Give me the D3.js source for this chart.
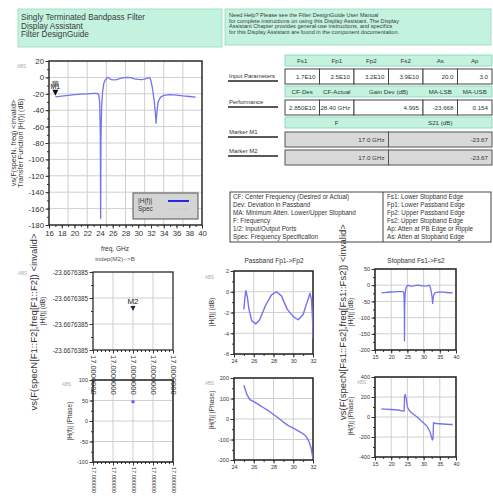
<!DOCTYPE html>
<html><head><meta charset="utf-8">
<script src="https://cdn.jsdelivr.net/npm/d3@7"></script>
<style>body{margin:0;background:#fff;} svg{display:block;font-family:"Liberation Sans",Arial,sans-serif;}</style>
</head><body><svg id="c" width="493" height="499"></svg>
<script>
// ---------------- DATA ----------------
const magFreq = [17,18,19,20,21,22,23,23.5,23.8,23.95,24.05,24.1,24.15,24.25,24.4,24.6,24.8,25.0,25.2,25.5,25.8,26.2,26.6,27.2,27.8,28.3,28.8,29.4,30.0,30.5,31.0,31.4,31.7,31.9,32.0,32.2,32.5,32.7,32.8,32.9,33.1,33.5,34,35,36,37,38,39];
const magDb   = [-23.67,-22.8,-21.8,-21.0,-20.5,-20.0,-19.6,-19.5,-21,-30,-70,-172,-75,-38,-18,-7,-3.5,-1.7,0.1,-1.6,-2.8,-3.1,-2.7,-1.3,-0.3,0,-0.4,-1.7,-2.4,-2.7,-2.2,-1.0,-0.15,-1.5,-4.5,-12,-28,-45,-56,-45,-30,-24,-22,-21,-21.5,-22.5,-23.3,-24];
const pbFreq  = [25.0,25.1,25.2,25.35,25.5,25.8,26.2,26.6,27.2,27.8,28.3,28.8,29.4,30.0,30.5,31.0,31.4,31.7,31.85,31.95,32.0];
const pbDb    = [-1.7,-0.6,0.1,-0.5,-1.6,-2.8,-3.1,-2.7,-1.3,-0.3,0,-0.4,-1.7,-2.4,-2.7,-2.2,-1.0,-0.15,-0.8,-2.5,-4.5];
const pbPhFreq = [25.0,25.3,25.6,26,26.5,27,27.5,28,28.5,29,29.5,30,30.5,31,31.3,31.6,31.8,32];
const pbPhase  = [165,120,95,85,70,55,40,22,5,-15,-32,-45,-58,-72,-85,-110,-140,-195];
const sbPhFreq = [17,18,20,22,23.5,24.0,24.1,24.3,24.6,25,25.5,26,27,28,29,30,31,32,32.7,32.9,33.05,34,36,38,39];
const sbPhase  = [80,78,75,70,62,58,200,225,190,100,70,50,25,0,-30,-60,-90,-150,-230,-220,-60,-65,-70,-75,-75];
const m1Freq = [17.0], m1Db = [-23.67];
const m2Freq = [17.0], m2Db = [-23.6676385], m2Phase = [47];
const m2XLabel = "17.0000000", m2XLabelB = "17.000000", m2YLabel = "-23.6676385";

const inputHeaders = ["Fs1","Fp1","Fp2","Fs2","As","Ap"];
const inputValues  = ["1.7E10","2.5E10","3.2E10","3.9E10","20.0","3.0"];
const perfHeaders  = ["CF-Des","CF-Actual","Gain Dev (dB)","MA-LSB","MA-USB"];
const perfValues   = ["2.850E10","28.40 GHz","4.995","-23.668","0.154"];
const markerHeaders = ["F","S21 (dB)"];
const markerM1 = ["17.0 GHz","-23.67"];
const markerM2 = ["17.0 GHz","-23.67"];
const rowLabels = ["Input Parameters","Performance","Marker M1","Marker M2"];
const titleLines = ["Singly Terminated Bandpass Filter","Display Assistant","Filter DesignGuide"];
const helpLines = ["Need Help? Please see the Filter DesignGuide User Manual",
  "for complete instructions on using this Display Assistant.  The Display",
  "Assistant Chapter provides general-use instructions, and specifics",
  "for this Display Assistant are found in the component documentation."];
const defsLeft = ["CF: Center Frequency (Desired or Actual)","Dev: Deviation in Passband","MA: Minimum Atten. Lower/Upper Stopband","F: Frequency","1/2: Input/Output Ports","Spec: Frequency Specification"];
const defsRight = ["Fs1: Lower Stopband Edge","Fp1: Lower Passband Edge","Fp2: Upper Passband Edge","Fs2: Upper Stopband Edge","Ap: Atten at PB Edge or Ripple","As: Atten at Stopband Edge"];
const legendItems = ["|H(f)|","Spec"];

// ---------------- STYLE ----------------
const MINT = "#c3f3df", MINT_B = "#93d9bd", TXT = "#333", GRID = "#cfcfcf", CURVE = "#7373ee";
const svg = d3.select("#c");
let clipId = 0;

function txt(x, y, s, size, opt = {}) {
  const t = svg.append("text").attr("x", x).attr("y", y).text(s)
    .attr("font-size", size).attr("fill", opt.fill || TXT)
    .attr("text-anchor", opt.anchor || "start");
  if (opt.rot) t.attr("transform", `rotate(${opt.rot},${x},${y})`);
  return t;
}

function plot(c) {
  const g = svg.append("g");
  const x = d3.scaleLinear().domain(c.xd).range([c.x0, c.x0 + c.w]);
  const y = d3.scaleLinear().domain(c.yd).range([c.y0 + c.h, c.y0]);
  g.append("rect").attr("x", c.x0).attr("y", c.y0).attr("width", c.w).attr("height", c.h).attr("fill", "#fff");
  g.selectAll(null).data(c.xGrid).enter().append("line")
    .attr("x1", d => x(d)).attr("x2", d => x(d)).attr("y1", c.y0).attr("y2", c.y0 + c.h)
    .attr("stroke", GRID).attr("stroke-width", 1);
  g.selectAll(null).data(c.yGrid).enter().append("line")
    .attr("y1", d => y(d)).attr("y2", d => y(d)).attr("x1", c.x0).attr("x2", c.x0 + c.w)
    .attr("stroke", GRID).attr("stroke-width", 1);
  const fs = c.fs || 6;
  g.append("g").attr("transform", `translate(0,${c.y0 + c.h})`)
    .call(d3.axisBottom(x).tickValues(c.xMinor || []).tickSize(2).tickFormat(""))
    .call(s => s.select(".domain").remove());
  g.append("g").attr("transform", `translate(${c.x0},0)`)
    .call(d3.axisLeft(y).tickValues(c.yMinor || []).tickSize(2).tickFormat(""))
    .call(s => s.select(".domain").remove());
  const xa = g.append("g").attr("transform", `translate(0,${c.y0 + c.h})`)
    .call(d3.axisBottom(x).tickValues(c.xTicks).tickSize(3.5).tickPadding(2).tickFormat(c.xFmt || (d => d)))
    .call(s => s.select(".domain").remove());
  g.append("g").attr("transform", `translate(${c.x0},0)`)
    .call(d3.axisLeft(y).tickValues(c.yTicks).tickSize(3.5).tickPadding(1.5).tickFormat(c.yFmt || (d => d)))
    .call(s => s.select(".domain").remove());
  g.selectAll(".tick line").attr("stroke", "#333").attr("stroke-width", 1);
  g.selectAll(".tick text").attr("fill", TXT).attr("font-size", fs).attr("font-family", "Liberation Sans, Arial, sans-serif");
  if (c.xRot) {
    xa.selectAll("text").attr("transform", "rotate(90)").attr("x", 5).attr("y", 0)
      .attr("dy", "0.35em").attr("text-anchor", "start").attr("font-size", c.xRotFs || fs);
  }
  g.append("rect").attr("x", c.x0).attr("y", c.y0).attr("width", c.w).attr("height", c.h)
    .attr("fill", "none").attr("stroke", "#2b2b2b").attr("stroke-width", c.bw || 1.3);
  const cid = "clip" + (clipId++);
  svg.append("clipPath").attr("id", cid).append("rect")
    .attr("x", c.x0).attr("y", c.y0).attr("width", c.w).attr("height", c.h);
  const inner = svg.append("g").attr("clip-path", `url(#${cid})`);
  return { x, y, inner, xa };
}

function curve(p, xs, ys, color, w) {
  const line = d3.line().x(i => p.x(xs[i])).y(i => p.y(ys[i]));
  p.inner.append("path").attr("d", line(d3.range(xs.length)))
    .attr("fill", "none").attr("stroke", color || CURVE).attr("stroke-width", w || 1.2)
    .attr("stroke-linejoin", "round");
}

// ---------------- HEADER ----------------
svg.append("rect").attr("x", 18).attr("y", 9).attr("width", 204).attr("height", 38)
  .attr("fill", MINT).attr("stroke", MINT_B).attr("stroke-width", 0.8);
titleLines.forEach((s, i) => txt(21, 20 + i * 8.5, s, 8.2, { fill: "#3a3a3a" }));
svg.append("rect").attr("x", 225).attr("y", 9).attr("width", 266).attr("height", 36)
  .attr("fill", MINT).attr("stroke", MINT_B).attr("stroke-width", 0.8);
helpLines.forEach((s, i) => txt(229, 17 + i * 5.6, s, 5.6, { fill: "#3a3a3a" }));

// ---------------- MAIN CHART ----------------
const main = plot({
  x0: 49, y0: 61, w: 153, h: 164, xd: [16, 40], yd: [-180, 20],
  xTicks: d3.range(16, 41, 2), xMinor: d3.range(16, 41, 1),
  yTicks: d3.range(-180, 21, 20), yMinor: d3.range(-180, 21, 10),
  xGrid: d3.range(19, 40, 3), yGrid: d3.range(-160, 20, 20), fs: 7.8, bw: 1.5
});
curve(main, magFreq, magDb, CURVE, 1.3);
const m1x = main.x(m1Freq[0]), m1y = main.y(m1Db[0]);
svg.append("path").attr("d", `M${m1x - 3},${m1y - 7}L${m1x + 3},${m1y - 7}L${m1x},${m1y - 1}Z`).attr("fill", "#111");
txt(m1x, m1y - 8, "M1", 7, { anchor: "middle", fill: "#222" });
svg.append("rect").attr("x", m1x - 3).attr("y", m1y - 16).attr("width", 6).attr("height", 6).attr("fill", "#555").attr("opacity", 0.6);
svg.append("rect").attr("x", 133).attr("y", 193).attr("width", 65).attr("height", 26)
  .attr("fill", "#d4d4d4").attr("stroke", "#555").attr("stroke-width", 1);
txt(138, 203, legendItems[0], 6.5);
txt(138, 211, legendItems[1], 6.5);
svg.append("line").attr("x1", 168).attr("x2", 189).attr("y1", 201).attr("y2", 201).attr("stroke", "#2727e0").attr("stroke-width", 2);
svg.append("line").attr("x1", 168).attr("x2", 189).attr("y1", 209).attr("y2", 209).attr("stroke", "#c8c8d8").attr("stroke-width", 1);
txt(17, 68, "ABS", 4.5, { fill: "#aaa" });
txt(16, 143, "vs(F(specN, freq) <invalid>", 7.2, { anchor: "middle", rot: -90 });
txt(23, 143, "Transfer Function |H(f)| (dB)", 7.2, { anchor: "middle", rot: -90 });
txt(115, 251, "freq, GHz", 6.5, { anchor: "middle" });
txt(115, 261, "indep(M2)-->B", 6.2, { anchor: "middle", fill: "#555" });

// ---------------- TABLE ----------------
const colX = [285, 319.5, 354, 388.5, 423, 457.5, 492];
function band(y, h, fill, stroke) {
  svg.append("rect").attr("x", colX[0]).attr("y", y).attr("width", colX[6] - colX[0]).attr("height", h)
    .attr("fill", fill).attr("stroke", stroke).attr("stroke-width", 1);
}
function cells(y, h, spans, fill, stroke) {
  spans.forEach(([a, b]) => svg.append("rect").attr("x", colX[a]).attr("y", y).attr("width", colX[b] - colX[a]).attr("height", h)
    .attr("fill", fill).attr("stroke", stroke).attr("stroke-width", 1));
}
const six = [[0,1],[1,2],[2,3],[3,4],[4,5],[5,6]];
const five = [[0,1],[1,2],[2,4],[4,5],[5,6]];
const two = [[0,3],[3,6]];
band(55, 11, MINT, MINT_B);
inputHeaders.forEach((s, i) => txt((colX[six[i][0]] + colX[six[i][1]]) / 2, 63, s, 6.2, { anchor: "middle" }));
cells(69, 15, six, "#fff", "#444");
inputValues.forEach((s, i) => txt(colX[six[i][1]] - 4, 79, s, 6.2, { anchor: "end" }));
band(86, 11, MINT, MINT_B);
perfHeaders.forEach((s, i) => txt((colX[five[i][0]] + colX[five[i][1]]) / 2, 94, s, 6.2, { anchor: "middle" }));
cells(100, 15, five, "#fff", "#444");
perfValues.forEach((s, i) => txt(colX[five[i][1]] - 4, 110, s, 6.2, { anchor: "end" }));
band(117, 11, MINT, MINT_B);
markerHeaders.forEach((s, i) => txt((colX[two[i][0]] + colX[two[i][1]]) / 2, 125, s, 6.2, { anchor: "middle" }));
cells(132, 15, two, "#d9d9d9", "#555");
markerM1.forEach((s, i) => txt(colX[two[i][1]] - 4, 142, s, 6.2, { anchor: "end" }));
cells(150, 15, two, "#d9d9d9", "#555");
markerM2.forEach((s, i) => txt(colX[two[i][1]] - 4, 160, s, 6.2, { anchor: "end" }));
const labelY = [78, 104, 134, 153];
rowLabels.forEach((s, i) => {
  txt(229, labelY[i], s, 6, {});
  svg.append("line").attr("x1", 228).attr("x2", 278).attr("y1", labelY[i] + 3).attr("y2", labelY[i] + 3)
    .attr("stroke", "#222").attr("stroke-width", 1.4);
});

// ---------------- DEFINITIONS ----------------
svg.append("rect").attr("x", 230).attr("y", 192).attr("width", 261).attr("height", 50)
  .attr("fill", "#fff").attr("stroke", "#444").attr("stroke-width", 1);
svg.append("line").attr("x1", 383).attr("x2", 383).attr("y1", 192).attr("y2", 242).attr("stroke", "#444");
defsLeft.forEach((s, i) => txt(233, 199 + i * 7.9, s, 6.3));
defsRight.forEach((s, i) => txt(387, 199 + i * 7.9, s, 6.3));

// ---------------- M2 PANEL ----------------
const m2Ticks = d3.range(5).map(i => 16.99998 + i * 0.00001);
const m2a = plot({
  x0: 93, y0: 272, w: 80, h: 78, xd: [16.99998, 17.00002], yd: [-23.6676387, -23.6676383],
  xTicks: m2Ticks, xMinor: d3.range(21).map(i => 16.99998 + i * 0.000002),
  yTicks: d3.range(4).map(i => -23.6676387 + i * 0.0000004 / 3), yMinor: d3.range(7).map(i => -23.6676387 + i * 0.0000004 / 6),
  xGrid: m2Ticks.slice(1, 4), yGrid: d3.range(1, 3).map(i => -23.6676387 + i * 0.0000004 / 3),
  fs: 6.3, xFmt: () => m2XLabel, xRot: true, xRotFs: 7.5, yFmt: () => m2YLabel
});
const m2x = m2a.x(m2Freq[0]), m2y = m2a.y(m2Db[0]);
svg.append("path").attr("d", `M${m2x - 2.5},${m2y - 5}L${m2x + 2.5},${m2y - 5}L${m2x},${m2y}Z`).attr("fill", "#222244");
txt(m2x, m2y - 7, "M2", 8, { anchor: "middle", fill: "#222" });
const m2b = plot({
  x0: 93, y0: 380, w: 80, h: 82, xd: [16.99998, 17.00002], yd: [-100, 100],
  xTicks: m2Ticks, xMinor: d3.range(21).map(i => 16.99998 + i * 0.000002),
  yTicks: [-100, -50, 0, 50, 100], yMinor: d3.range(-100, 101, 25),
  xGrid: m2Ticks.slice(1, 4), yGrid: [-50, 0, 50],
  fs: 5.5, xFmt: () => m2XLabelB, xRot: true, xRotFs: 5.5, bw: 1.6
});
m2b.inner.append("circle").attr("cx", m2b.x(m2Freq[0])).attr("cy", m2b.y(m2Phase[0])).attr("r", 1.8).attr("fill", "#6a6ae8");
// upper plot's rotated labels run over the top of the phase plot: move them to the top layer
svg.node().appendChild(m2a.xa.node());
txt(37, 322, "vs(F(specN[F1::F2],freq[F1::F2]) <invalid>", 9.5, { anchor: "middle", rot: -90 });
txt(45, 311, "|H(f)| (dB)", 6.5, { anchor: "middle", rot: -90 });
txt(18, 275, "ABS", 4.5, { fill: "#aaa" });
txt(72, 421, "|H(f)| (Phase)", 6.5, { anchor: "middle", rot: -90 });
txt(62, 386, "ABS", 4.5, { fill: "#aaa" });

// ---------------- PASSBAND PANEL ----------------
txt(274, 263, "Passband Fp1->Fp2", 6.5, { anchor: "middle" });
const pb = plot({
  x0: 234, y0: 271, w: 79, h: 83, xd: [24, 32], yd: [-6, 2],
  xTicks: [24, 26, 28, 30, 32], xMinor: d3.range(24, 32.1, 1),
  yTicks: [-6, -4, -2, 0, 2], yMinor: d3.range(-6, 2.1, 1),
  xGrid: [26, 28, 30], yGrid: [-4, -2, 0], fs: 5.5, bw: 1.6
});
curve(pb, pbFreq, pbDb, CURVE, 1.4);
const pbp = plot({
  x0: 234, y0: 378, w: 79, h: 82, xd: [24, 32], yd: [-200, 200],
  xTicks: [24, 26, 28, 30, 32], xMinor: d3.range(24, 32.1, 1),
  yTicks: [-200, -100, 0, 100, 200], yMinor: d3.range(-200, 201, 50),
  xGrid: [26, 28, 30], yGrid: [-100, 0, 100], fs: 5.5, bw: 1.6
});
curve(pbp, pbPhFreq, pbPhase, CURVE, 1.4);
txt(214, 312, "|H(f)| (dB)", 6.5, { anchor: "middle", rot: -90 });
txt(214, 410, "|H(f)| (Phase)", 6.5, { anchor: "middle", rot: -90 });
txt(205, 279, "ABS", 4.5, { fill: "#aaa" });
txt(205, 385, "ABS", 4.5, { fill: "#aaa" });

// ---------------- STOPBAND PANEL ----------------
txt(416, 263, "Stopband Fs1->Fs2", 6.5, { anchor: "middle" });
const sb = plot({
  x0: 375, y0: 269, w: 81, h: 81, xd: [15, 40], yd: [-200, 50],
  xTicks: [15, 20, 25, 30, 35, 40], xMinor: d3.range(15, 40.1, 2.5),
  yTicks: [-200, -150, -100, -50, 0, 50], yMinor: d3.range(-200, 51, 25),
  xGrid: [20, 25, 30, 35], yGrid: [-150, -100, -50, 0], fs: 5.5, bw: 1.6
});
curve(sb, magFreq, magDb, CURVE, 1.3);
const sbp = plot({
  x0: 375, y0: 377, w: 81, h: 80, xd: [15, 40], yd: [-400, 400],
  xTicks: [15, 20, 25, 30, 35, 40], xMinor: d3.range(15, 40.1, 2.5),
  yTicks: [-400, -200, 0, 200, 400], yMinor: d3.range(-400, 401, 100),
  xGrid: [20, 25, 30, 35], yGrid: [-200, 0, 200], fs: 5.5, bw: 1.6
});
curve(sbp, sbPhFreq, sbPhase, CURVE, 1.3);
txt(346, 322, "vs(F(specN[Fs1::Fs2],freq[Fs1::Fs2]) <invalid>", 9.5, { anchor: "middle", rot: -90 });
txt(353, 312, "|H(f)| (dB)", 6.5, { anchor: "middle", rot: -90 });
txt(353, 416, "|H(f)| (Phase)", 6.5, { anchor: "middle", rot: -90 });
txt(357, 384, "ABS", 4.5, { fill: "#aaa" });
</script></body></html>
